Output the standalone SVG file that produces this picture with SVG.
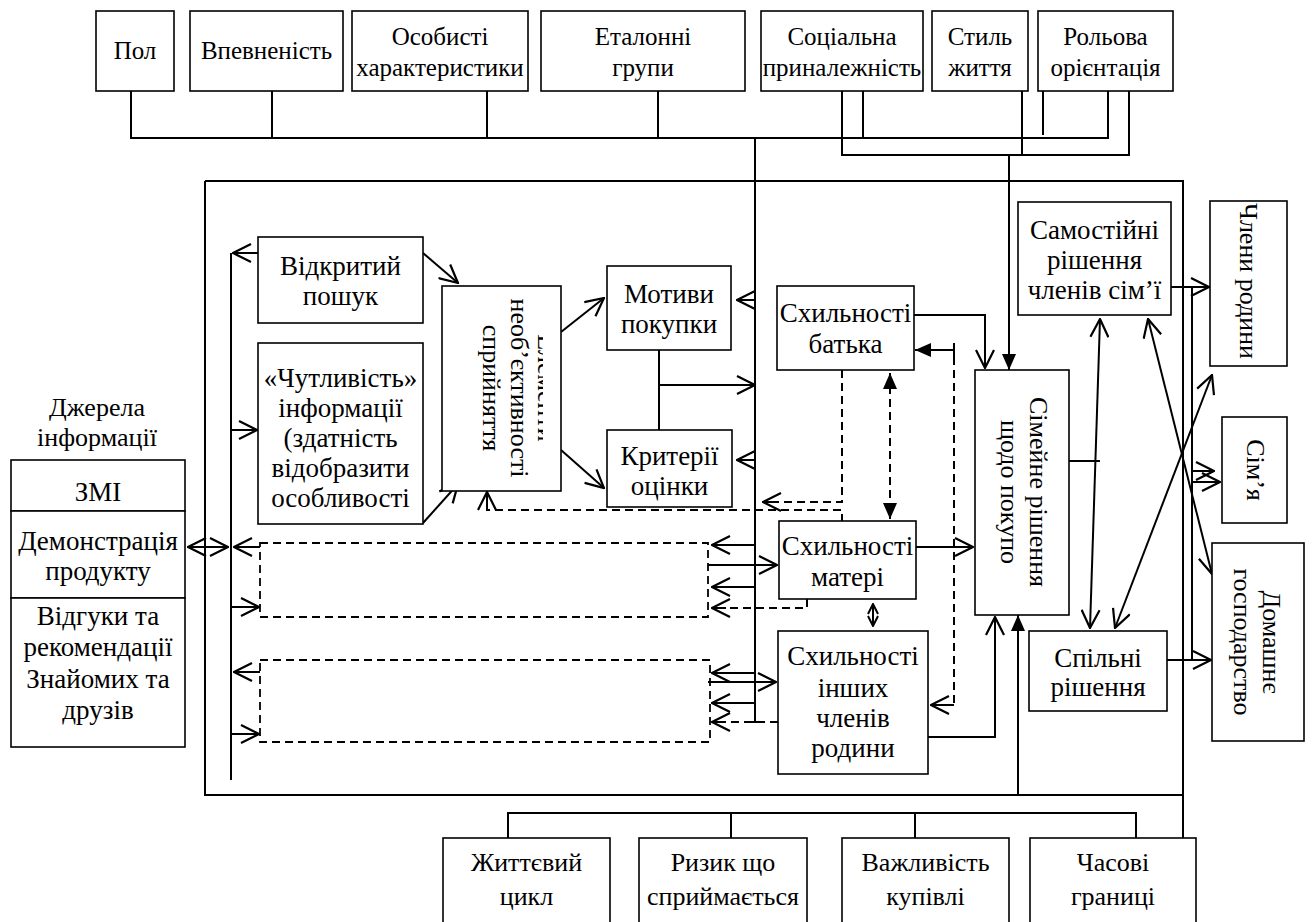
<svg xmlns="http://www.w3.org/2000/svg" width="1312" height="922" viewBox="0 0 1312 922">
<style>
.b{fill:#fff;stroke:#000;stroke-width:1.6}
.t{font-family:'Liberation Serif','DejaVu Serif',serif;font-size:27px;fill:#000;text-anchor:middle}
.tp{font-size:25px}
.tr{font-size:26px}
.l{fill:none;stroke:#000;stroke-width:2}
.d{fill:none;stroke:#000;stroke-width:2;stroke-dasharray:8 5}
.db{fill:none;stroke:#000;stroke-width:1.8;stroke-dasharray:8 5}
.oe{marker-end:url(#oa)}
.ob{marker-end:url(#oa);marker-start:url(#oa)}
.fe{marker-end:url(#fa)}
.fb{marker-end:url(#fa);marker-start:url(#fa)}
</style>
<defs>
<marker id="oa" viewBox="0 0 20 20" refX="19" refY="10" markerWidth="20" markerHeight="20" markerUnits="userSpaceOnUse" orient="auto-start-reverse"><path d="M1,1 L19,10 L1,19" fill="none" stroke="#000" stroke-width="2.2"/></marker>
<marker id="fa" viewBox="0 0 16 16" refX="16" refY="8" markerWidth="16" markerHeight="16" markerUnits="userSpaceOnUse" orient="auto-start-reverse"><path d="M0,1 L16,8 L0,15 z" fill="#000"/></marker>
<marker id="sa" viewBox="0 0 12 12" refX="11" refY="6" markerWidth="12" markerHeight="12" markerUnits="userSpaceOnUse" orient="auto-start-reverse"><path d="M1,1 L11,6 L1,11" fill="none" stroke="#000" stroke-width="2"/></marker>
<clipPath id="cp"><rect x="442" y="286" width="101" height="205"/></clipPath>
</defs>
<rect width="1312" height="922" fill="#fff"/>

<g id="connectors">
<path class="l" d="M131,91 V138 H1108 V91"/>
<path class="l" d="M272,91 V138 M487,91 V138 M658,91 V138 M863,91 V138"/>
<path class="l" d="M842,91 V155 H1129 V91"/>
<path class="l" d="M1022,91 V155 M1043,91 V135"/>
<path class="l fe" d="M1009,155 V370"/>
<path class="l" d="M755,138 V722 M749,722 H761"/>
<path class="l" d="M205,181 H1183 V838 M205,181 V795 H1183"/>
<path class="l fe" d="M1018,795 V615"/>
<path class="l" d="M508,838 V813 H1136 V838 M731,813 V838 M915,813 V838"/>

<path class="l" d="M231,253 V780"/>
<path class="l ob" d="M188,547 H228"/>
<path class="l oe" d="M258,253 H233"/>
<path class="l oe" d="M231,430 H257"/>
<path class="l oe" d="M260,547 H234"/>
<path class="l oe" d="M231,607 H259"/>
<path class="l oe" d="M260,672 H234"/>
<path class="l oe" d="M231,734 H259"/>
<rect class="db" x="260" y="543" width="448" height="74"/>
<rect class="db" x="260" y="660" width="450" height="82"/>

<path class="l oe" d="M423,253 L458,283"/>
<path class="l oe" d="M423,523 L458,484"/>
<path class="l oe" d="M561,332 L604,298"/>
<path class="l oe" d="M561,450 L604,488"/>

<path class="l oe" d="M755,300 H737"/>
<path class="l oe" d="M755,460 H737"/>
<path class="l" d="M659,350 V430"/>
<path class="l oe" d="M659,385 H755"/>

<path class="l oe" d="M755,545 H712"/>
<path class="l oe" d="M708,565 H777"/>
<path class="l oe" d="M755,587 H712"/>
<path class="d" d="M807,599 V608 H725"/>
<path class="l oe" d="M726,608 H712"/>
<path class="l oe" d="M755,673 H712"/>
<path class="l oe" d="M708,682 H776"/>
<path class="l oe" d="M755,703 H712"/>
<path class="d" d="M778,722 H725"/>
<path class="l oe" d="M726,722 H712"/>

<path class="l oe" d="M914,315 H985 V368"/>
<path class="l fe" d="M954,350 H915"/>
<path class="l" d="M954,343 V357"/>
<path class="d" d="M954,357 V705"/>
<path class="l oe" d="M954,705 H931"/>
<path class="d" d="M842,370 V502 H775"/>
<path class="l oe" d="M776,502 H763"/>
<path class="d" d="M842,522 V510 H487 V505"/>
<path class="l oe" d="M487,506 V492"/>
<path class="d fb" d="M890,373 V519"/>
<path class="l oe" d="M916,547 H973"/>
<path fill="none" stroke="#000" stroke-width="2" marker-start="url(#sa)" marker-end="url(#sa)" d="M873,604 V626"/>
<path class="l oe" d="M928,737 H995 V617"/>

<path class="l" d="M1069,461 H1100"/>
<path class="l oe" d="M1171,287 H1209"/>
<path class="l oe" d="M1167,660 H1211"/>
<path class="l" d="M1192,287 V660"/>
<path class="l oe" d="M1192,471 H1214"/>
<path class="l oe" d="M1192,482 H1220"/>
<path class="l ob" d="M1100,319 L1090,628"/>
<path class="l ob" d="M1148,319 L1212,574"/>
<path class="l ob" d="M1115,628 L1212,375"/>
</g>

<g id="n-pol"><rect class="b" x="96" y="11" width="78" height="80"/><text class="t tp" x="135" y="59">Пол</text></g>
<g id="n-vpev"><rect class="b" x="190" y="11" width="153" height="80"/><text class="t tp" x="266.5" y="59">Впевненість</text></g>
<g id="n-osob"><rect class="b" x="352" y="11" width="176" height="80"/><text class="t tp" x="440" y="45">Особисті</text><text class="t tp" x="440" y="76">характеристики</text></g>
<g id="n-etal"><rect class="b" x="541" y="11" width="204" height="80"/><text class="t tp" x="643" y="45">Еталонні</text><text class="t tp" x="643" y="76">групи</text></g>
<g id="n-soc"><rect class="b" x="761" y="11" width="162" height="80"/><text class="t tp" x="842" y="45">Соціальна</text><text class="t tp" x="842" y="76">приналежність</text></g>
<g id="n-styl"><rect class="b" x="932" y="11" width="96" height="80"/><text class="t tp" x="980" y="45">Стиль</text><text class="t tp" x="980" y="76">життя</text></g>
<g id="n-rol"><rect class="b" x="1038" y="11" width="135" height="80"/><text class="t tp" x="1105.5" y="45">Рольова</text><text class="t tp" x="1105.5" y="76">орієнтація</text></g>

<g id="n-dzherela"><text class="t tr" x="97" y="416">Джерела</text><text class="t tr" x="97" y="446">інформації</text></g>
<g id="n-zmi"><rect class="b" x="11" y="460" width="174" height="51"/><text class="t" x="98" y="501">ЗМІ</text></g>
<g id="n-demo"><rect class="b" x="11" y="511" width="174" height="87"/><text class="t" x="98" y="550">Демонстрація</text><text class="t" x="98" y="580">продукту</text></g>
<g id="n-vidg"><rect class="b" x="11" y="598" width="174" height="149"/><text class="t" x="98" y="625">Відгуки та</text><text class="t" x="98" y="656">рекомендації</text><text class="t" x="98" y="688">Знайомих та</text><text class="t" x="98" y="719">друзів</text></g>

<g id="n-vidkr"><rect class="b" x="258" y="237" width="165" height="86"/><text class="t" x="340.5" y="275">Відкритий</text><text class="t" x="340.5" y="305">пошук</text></g>
<g id="n-chutl"><rect class="b" x="258" y="343" width="165" height="181"/><text class="t" x="340.5" y="387">«Чутливість»</text><text class="t" x="340.5" y="417">інформації</text><text class="t" x="340.5" y="447">(здатність</text><text class="t" x="340.5" y="477">відобразити</text><text class="t" x="340.5" y="507">особливості</text></g>
<g id="n-neob"><rect class="b" x="442" y="286" width="119" height="205"/>
<g clip-path="url(#cp)"><text class="t tr" transform="translate(538,388) rotate(90)">Елементи</text></g>
<text class="t tr" transform="translate(511,388) rotate(90)">необ’єктивності</text>
<text class="t tr" transform="translate(483,388) rotate(90)">сприйняття</text></g>
<g id="n-motyv"><rect class="b" x="607" y="266" width="124" height="84"/><text class="t" x="669" y="303">Мотиви</text><text class="t" x="669" y="333">покупки</text></g>
<g id="n-kryt"><rect class="b" x="607" y="430" width="125" height="77"/><text class="t" x="669.5" y="465">Критерії</text><text class="t" x="669.5" y="495">оцінки</text></g>
<g id="n-batka"><rect class="b" x="777" y="286" width="137" height="84"/><text class="t" x="845.5" y="322">Схильності</text><text class="t" x="845.5" y="353">батька</text></g>
<g id="n-mater"><rect class="b" x="779" y="521" width="137" height="78"/><text class="t" x="847.5" y="555">Схильності</text><text class="t" x="847.5" y="586">матері</text></g>
<g id="n-inshykh"><rect class="b" x="778" y="631" width="150" height="143"/><text class="t" x="853" y="665">Схильності</text><text class="t" x="853" y="697">інших</text><text class="t" x="853" y="727">членів</text><text class="t" x="853" y="757">родини</text></g>
<g id="n-simeyne"><rect class="b" x="975" y="370" width="94" height="245"/><text class="t tr" transform="translate(1030,492) rotate(90)">Сімейне рішення</text><text class="t tr" transform="translate(1001,492) rotate(90)">щодо покупо</text></g>
<g id="n-samost"><rect class="b" x="1018" y="202" width="153" height="113"/><text class="t" x="1094.5" y="239">Самостійні</text><text class="t" x="1094.5" y="269">рішення</text><text class="t" x="1094.5" y="299">членів сім’ї</text></g>
<g id="n-spilni"><rect class="b" x="1029" y="631" width="138" height="80"/><text class="t" x="1098" y="667">Спільні</text><text class="t" x="1098" y="696">рішення</text></g>
<g id="n-chleny"><rect class="b" x="1210" y="201" width="77" height="165"/><text class="t tr" style="text-anchor:start" transform="translate(1240,203) rotate(90)">Члени родини</text></g>
<g id="n-simya"><rect class="b" x="1222" y="417" width="65" height="106"/><text class="t tr" transform="translate(1247,470) rotate(90)">Сім’я</text></g>
<g id="n-domash"><rect class="b" x="1212" y="543" width="92" height="198"/><text class="t tr" transform="translate(1263,642) rotate(90)">Домашнє</text><text class="t tr" transform="translate(1234,642) rotate(90)">господарство</text></g>

<g id="n-zhyttev"><rect class="b" x="443" y="838" width="167" height="90"/><text class="t tr" x="526.5" y="871">Життєвий</text><text class="t tr" x="526.5" y="905">цикл</text></g>
<g id="n-ryzyk"><rect class="b" x="639" y="838" width="168" height="90"/><text class="t tr" x="723" y="871">Ризик що</text><text class="t tr" x="723" y="905">сприймається</text></g>
<g id="n-vazhl"><rect class="b" x="842" y="838" width="167" height="90"/><text class="t tr" x="925.5" y="871">Важливість</text><text class="t tr" x="925.5" y="905">купівлі</text></g>
<g id="n-chasovi"><rect class="b" x="1030" y="838" width="166" height="90"/><text class="t tr" x="1113" y="871">Часові</text><text class="t tr" x="1113" y="905">границі</text></g>
</svg>
